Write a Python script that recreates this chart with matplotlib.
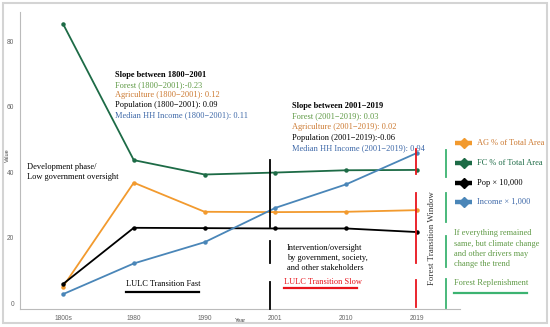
import matplotlib
matplotlib.use("Agg")
import matplotlib.pyplot as plt
from matplotlib.lines import Line2D
from matplotlib.patches import Rectangle

years = ["1800s", "1980", "1990", "2001", "2010", "2019"]
forest = [85.4, 43.7, 39.3, 39.9, 40.6, 40.7]
agriculture = [5.0, 36.8, 27.9, 27.8, 27.9, 28.4]
population = [5.8, 23.0, 22.9, 22.8, 22.8, 21.7]
income = [2.7, 12.1, 18.6, 29.1, 36.3, 45.9]

legend_labels = ["AG % of Total Area", "FC % of Total Area", "Pop \u00d7 10,000", "Income \u00d7 1,000"]
yticks = [0, 20, 40, 60, 80]

c_forest = "#1d6b46"
c_ag = "#f29a2e"
c_pop = "#000000"
c_inc = "#4a86b8"
t_forest = "#5f9a45"
t_ag = "#cc7a32"
t_inc = "#3d68a8"
bright_green = "#3cb371"
red = "#e8141c"

W, H = 550, 327
FS = 6.0
fig = plt.figure(figsize=(W / 100, H / 100), dpi=100)
ax = fig.add_axes([20 / W, 1 - 309 / H, 440 / W, 297 / H])

x = list(range(len(years)))
for vals, col in [(forest, c_forest), (agriculture, c_ag), (population, c_pop), (income, c_inc)]:
    ax.plot(x, vals, color=col, lw=1.3, marker="o", ms=2.2, zorder=3)

ax.set_xlim(-0.607, 5.607)
ax.set_ylim(-1.83, 89.0)
ax.set_xticks(x)
ax.set_xticklabels(years)
ax.set_yticks(yticks)
ax.tick_params(axis="both", length=0, labelsize=4.8, labelcolor="#666666", pad=4)
for lab in ax.get_xticklabels() + ax.get_yticklabels():
    lab.set_family("Liberation Sans")
for s in ["top", "right"]:
    ax.spines[s].set_visible(False)
for s in ["left", "bottom"]:
    ax.spines[s].set_color("#bbbbbb")
    ax.spines[s].set_linewidth(0.8)


def fx(px):
    return px / W


def fy(py):
    return 1 - py / H


fig.text(fx(240), fy(320), "Year", fontsize=4, color="#444444", family="Liberation Sans",
         ha="center", va="center")
fig.text(fx(7), fy(155), "Value", fontsize=4, color="#444444", family="Liberation Sans",
         ha="center", va="center", rotation=90)


def vseg(px, y0, y1, color, lw=1.3):
    fig.add_artist(Line2D([fx(px), fx(px)], [fy(y0), fy(y1)], color=color, lw=lw,
                          transform=fig.transFigure, zorder=5))


def hseg(x0, x1, py, color, lw=1.5):
    fig.add_artist(Line2D([fx(x0), fx(x1)], [fy(py), fy(py)], color=color, lw=lw,
                          transform=fig.transFigure, zorder=5))


def txt(px, py, s, color="black", size=FS, weight="normal", **kw):
    fig.text(fx(px), fy(py), s, color=color, fontsize=size, weight=weight,
             family="Liberation Serif", va="center", ha="left", **kw)


# outer border
fig.add_artist(Rectangle((fx(3), fy(323)), fx(544), 320 / H, transform=fig.transFigure,
                         fill=False, edgecolor="#d4d4d4", lw=1.5))

# vertical markers
for y0, y1 in [(160, 227), (241, 263), (282, 309)]:
    vseg(270, y0, y1, "black")
for y0, y1 in [(149, 174), (193, 263), (280, 307)]:
    vseg(416, y0, y1, red)
for y0, y1 in [(150, 177), (193, 222), (236, 267), (279, 308)]:
    vseg(446, y0, y1, bright_green)

# slope blocks
txt(115, 75, "Slope between 1800\u22122001", weight="bold")
txt(115, 85, "Forest (1800\u22122001):-0.23", color=t_forest)
txt(115, 95, "Agriculture (1800\u22122001): 0.12", color=t_ag)
txt(115, 105, "Population (1800\u22122001): 0.09")
txt(115, 115, "Median HH Income (1800\u22122001): 0.11", color=t_inc)

txt(292, 106, "Slope between 2001\u22122019", weight="bold")
txt(292, 116.5, "Forest (2001\u22122019): 0.03", color=t_forest)
txt(292, 127, "Agriculture (2001\u22122019): 0.02", color=t_ag)
txt(292, 137.5, "Population (2001\u22122019):-0.06")
txt(292, 148, "Median HH Income (2001\u22122019): 0.94", color=t_inc)

txt(27, 167, "Development phase/")
txt(27, 177, "Low government oversight")

txt(126, 284, "LULC Transition Fast")
hseg(126, 199, 292, "black", lw=1.6)

txt(287, 248, "Intervention/oversight")
txt(287, 258, "by government, society,")
txt(287, 268, "and other stakeholders")

txt(284, 282, "LULC Transition Slow", color=red)
hseg(284, 357, 288, red, lw=1.6)

fig.text(fx(432), fy(238), "Forest Transition Window", rotation=90, fontsize=6.4,
         family="Liberation Serif", color="#333333", ha="center", va="center")

txt(454, 233, "If everything remained", color=t_forest)
txt(454, 243.5, "same, but climate change", color=t_forest)
txt(454, 254, "and other drivers may", color=t_forest)
txt(454, 264.5, "change the trend", color=t_forest)
txt(454, 283, "Forest Replenishment", color=t_forest)
hseg(454, 527, 293, bright_green, lw=1.6)

# legend
leg_y = [143, 163, 183, 202]
leg_line = [c_ag, c_forest, c_pop, c_inc]
leg_text = [t_ag, c_forest, "black", t_inc]
for py, lab, lc, tc in zip(leg_y, legend_labels, leg_line, leg_text):
    fig.add_artist(Line2D([fx(455), fx(472)], [fy(py), fy(py)], color=lc, lw=3.2,
                          transform=fig.transFigure, solid_capstyle="butt"))
    fig.add_artist(Line2D([fx(463.5)], [fy(py)], color=lc, marker="D", ms=5,
                          transform=fig.transFigure))
    txt(477, py, lab, color=tc)

fig.savefig("out.png", dpi=100)
